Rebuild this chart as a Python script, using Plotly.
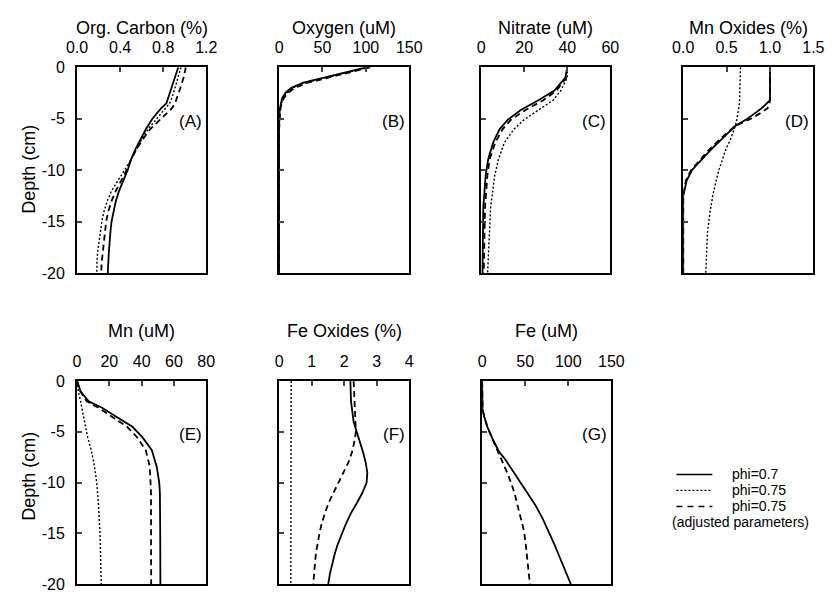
import plotly.graph_objects as go

# ---------------- data ----------------
# (A) Organic carbon (%)
a_depth = [0, -1, -2, -3, -3.5, -4, -4.5, -5, -6, -7, -8, -9, -10, -11, -12, -13, -14, -15, -16, -17, -18, -19, -20]
a_phi070 = [0.94, 0.91, 0.88, 0.85, 0.83, 0.78, 0.74, 0.70, 0.64, 0.59, 0.54, 0.50, 0.47, 0.43, 0.39, 0.36, 0.34, 0.32, 0.31, 0.30, 0.295, 0.29, 0.285]
a_phi075 = [0.965, 0.94, 0.91, 0.88, 0.86, 0.82, 0.78, 0.74, 0.66, 0.60, 0.55, 0.50, 0.44, 0.38, 0.32, 0.28, 0.25, 0.23, 0.215, 0.20, 0.19, 0.185, 0.183]
a_phi075adj = [1.01, 0.99, 0.96, 0.93, 0.91, 0.88, 0.83, 0.77, 0.68, 0.61, 0.55, 0.50, 0.46, 0.41, 0.36, 0.32, 0.29, 0.27, 0.26, 0.245, 0.235, 0.228, 0.224]

# (B) Oxygen (uM)
b_depth = [0, -0.5, -1, -1.5, -2, -2.5, -3, -3.5, -4, -5, -6, -20]
b_phi070 = [101, 76, 50, 28, 14, 7, 3.5, 1.8, 0.8, 0.2, 0, 0]
b_phi075 = [103, 78, 52, 30, 16, 8.5, 4.5, 2.4, 1.1, 0.3, 0, 0]
b_phi075adj = [105, 80, 55, 33, 18, 10, 5.5, 3, 1.5, 0.4, 0, 0]

# (C) Nitrate (uM)
c_depth = [0, -1, -2.26, -3.2, -4.15, -5.1, -6, -7.3, -8.9, -10.5, -13.6, -20]
c_phi070 = [40, 39.1, 34, 26.6, 18.4, 12.3, 8.6, 5.6, 3.3, 2.1, 1.0, 0.6]
c_phi075 = [40, 40, 37, 33.4, 26.6, 19.9, 15.3, 10.8, 8.1, 6.3, 4.4, 3.0]
c_phi075adj = [40, 39.5, 35, 28.9, 20.6, 13.8, 10, 6.6, 4, 2.9, 1.8, 1.2]

# (D) Mn oxides (%)
d_depth = [0, -3, -3.2, -3.7, -4, -4.5, -5, -5.7, -7, -8, -9, -10, -11, -12, -12.5, -13, -14, -16, -18, -20]
d_phi070 = [1.0, 1.0, 1.0, 0.94, 0.90, 0.82, 0.74, 0.60, 0.44, 0.32, 0.21, 0.10, 0.04, 0.008, 0, 0, 0, 0, 0, 0]
d_phi075 = [0.66, 0.655, 0.65, 0.645, 0.64, 0.63, 0.62, 0.60, 0.545, 0.49, 0.45, 0.41, 0.38, 0.35, 0.34, 0.33, 0.31, 0.28, 0.27, 0.26]
d_phi075adj = [1.0, 1.0, 1.0, 0.99, 0.97, 0.88, 0.78, 0.60, 0.42, 0.30, 0.19, 0.09, 0.03, 0.005, 0, 0, 0, 0, 0, 0]

# (E) Mn (uM)
e_depth = [0, -1, -2, -2.6, -3.6, -4.5, -5.5, -6.8, -8.4, -10, -11, -12, -15, -20]
e_phi070 = [0, 2.2, 7.2, 15.2, 25.3, 34.3, 40.3, 46.3, 49.3, 50.9, 51.3, 51.4, 51.5, 51.6]
e_phi075 = [0, 0.8, 2.2, 3.0, 4.2, 5.4, 6.5, 8.8, 10.8, 12.2, 12.8, 13.2, 14.2, 15.0]
e_phi075adj = [0, 2.0, 6.0, 13.0, 22.5, 31.0, 37.0, 42.5, 45.0, 45.7, 45.8, 45.8, 45.9, 45.9]

# (F) Fe oxides (%)
f_depth = [0, -2, -4, -5, -6, -7, -8, -9, -10, -11, -12, -13, -14, -15, -16, -17, -18, -19, -20]
f_phi070 = [2.19, 2.21, 2.29, 2.39, 2.49, 2.58, 2.66, 2.71, 2.69, 2.56, 2.39, 2.21, 2.06, 1.93, 1.81, 1.71, 1.63, 1.56, 1.51]
f_phi075 = [0.37, 0.37, 0.37, 0.37, 0.37, 0.37, 0.37, 0.37, 0.37, 0.37, 0.37, 0.37, 0.37, 0.37, 0.37, 0.37, 0.37, 0.36, 0.36]
f_phi075adj = [2.29, 2.31, 2.34, 2.36, 2.31, 2.24, 2.13, 1.98, 1.83, 1.67, 1.52, 1.41, 1.31, 1.24, 1.18, 1.13, 1.10, 1.07, 1.05]

# (G) Fe (uM)
g_depth = [0, -2, -2.8, -3.5, -4.5, -5.8, -7, -7.7, -9, -10, -11, -12.2, -13.5, -14.7, -16, -17.3, -18.5, -20]
g_phi070 = [0, 0, 0.5, 2.5, 6, 12.7, 20, 26.7, 37, 45, 53, 61.7, 70, 76.7, 83.5, 89.8, 96, 103]
g_phi075adj = [0, 0, 0.5, 2.5, 6, 12.5, 19, 22.5, 29, 33.5, 37.5, 41, 45, 48.5, 50.5, 52.3, 54, 55.5]

panel_titles = ["Org. Carbon (%)", "Oxygen (uM)", "Nitrate (uM)", "Mn Oxides (%)",
                "Mn (uM)", "Fe Oxides (%)", "Fe (uM)"]
panel_letters = ["(A)", "(B)", "(C)", "(D)", "(E)", "(F)", "(G)"]
x_ranges = [[0, 1.2], [0, 150], [0, 60], [0, 1.5], [0, 80], [0, 4], [0, 150]]
x_tickvals = [[0, 0.4, 0.8, 1.2], [0, 50, 100, 150], [0, 20, 40, 60], [0, 0.5, 1.0, 1.5],
              [0, 20, 40, 60, 80], [0, 1, 2, 3, 4], [0, 50, 100, 150]]
x_ticktext = [["0.0", "0.4", "0.8", "1.2"], ["0", "50", "100", "150"], ["0", "20", "40", "60"],
              ["0.0", "0.5", "1.0", "1.5"], ["0", "20", "40", "60", "80"],
              ["0", "1", "2", "3", "4"], ["0", "50", "100", "150"]]
y_tickvals = [0, -5, -10, -15, -20]
y_ticktext = ["0", "-5", "-10", "-15", "-20"]
series_names = ["phi=0.7", "phi=0.75", "phi=0.75"]
legend_note = "(adjusted parameters)"
y_title = "Depth (cm)"

panels = [
    (a_depth, [a_phi070, a_phi075, a_phi075adj]),
    (b_depth, [b_phi070, b_phi075, b_phi075adj]),
    (c_depth, [c_phi070, c_phi075, c_phi075adj]),
    (d_depth, [d_phi070, d_phi075, d_phi075adj]),
    (e_depth, [e_phi070, e_phi075, e_phi075adj]),
    (f_depth, [f_phi070, f_phi075, f_phi075adj]),
    (g_depth, [g_phi070, None, g_phi075adj]),
]

# ---------------- layout geometry (pixels in an 839x599 page) ----------------
W, H = 839, 599
col_px = [(68, 201), (276, 410), (484, 617), (692, 826), (68, 201), (276, 410), (485, 618)]
row_px = [(61, 273)] * 4 + [(384, 593)] * 3
title_y_px = [21] * 4 + [332] * 3

styles = [dict(color="black", width=1.8, dash="solid"),
          dict(color="black", width=1.4, dash="2px,2px"),
          dict(color="black", width=1.8, dash="6px,4px")]

FONT = "Liberation Sans, Arial, Helvetica, sans-serif"

fig = go.Figure()
layout = dict(
    width=W, height=H, margin=dict(l=0, r=0, t=0, b=0),
    paper_bgcolor="white", plot_bgcolor="white", showlegend=False,
    font=dict(family=FONT, size=16, color="black"),
)
annotations = []
shapes = []

for i, (depth, series) in enumerate(panels):
    k = i + 1
    xa = "x" if k == 1 else f"x{k}"
    ya = "y" if k == 1 else f"y{k}"
    for s, vals in enumerate(series):
        if vals is None:
            continue
        fig.add_trace(go.Scatter(x=vals, y=depth, mode="lines", line=styles[s],
                                 name=series_names[s], xaxis=xa, yaxis=ya,
                                 hoverinfo="skip"))
    x0, x1 = col_px[i]
    y0, y1 = row_px[i]
    layout["xaxis" if k == 1 else f"xaxis{k}"] = dict(
        domain=[x0 / W, x1 / W], range=x_ranges[i], side="top", anchor=ya,
        tickvals=x_tickvals[i], ticktext=x_ticktext[i], ticks="inside", ticklen=5,
        tickwidth=1.5, showline=True, linewidth=2, linecolor="black", mirror=True,
        showgrid=False, zeroline=False, tickfont=dict(size=16), fixedrange=True,
        ticklabelstandoff=6,
    )
    layout["yaxis" if k == 1 else f"yaxis{k}"] = dict(
        domain=[1 - y1 / H, 1 - y0 / H], range=[-20, 0], anchor=xa,
        tickvals=y_tickvals, ticktext=y_ticktext, ticks="inside", ticklen=5,
        tickwidth=1.5, showline=True, linewidth=2, linecolor="black", mirror=True,
        showgrid=False, zeroline=False, showticklabels=(i in (0, 4)),
        tickfont=dict(size=16), fixedrange=True, ticklabelstandoff=7,
    )
    annotations.append(dict(text=panel_titles[i], xref=f"{xa} domain", x=0.5,
                            yref="paper", y=1 - title_y_px[i] / H, showarrow=False,
                            xanchor="center", yanchor="middle", font=dict(size=18)))
    annotations.append(dict(text=panel_letters[i], xref=f"{xa} domain", x=0.985,
                            yref=ya, y=-5.3, showarrow=False, xanchor="right",
                            yanchor="middle", font=dict(size=17)))

# y-axis titles
for yc in (166, 482):
    annotations.append(dict(text=y_title, xref="paper", x=19 / W, yref="paper",
                            y=1 - yc / H, showarrow=False, textangle=-90,
                            xanchor="center", yanchor="middle", font=dict(size=18)))

# legend (drawn manually)
leg_rows = [480, 496.5, 513]
for s, yy in enumerate(leg_rows):
    st = styles[s]
    shapes.append(dict(type="line", xref="paper", yref="paper",
                       x0=685 / W, x1=722 / W, y0=1 - yy / H, y1=1 - yy / H,
                       line=dict(color="black", width=1.3 if s == 1 else 1.5,
                                 dash=st["dash"] if s != 2 else "6px,5px")))
    annotations.append(dict(text=series_names[s], xref="paper", x=741 / W,
                            yref="paper", y=1 - yy / H, showarrow=False,
                            xanchor="left", yanchor="middle", font=dict(size=14),
                            borderpad=0))
annotations.append(dict(text=legend_note, xref="paper", x=751 / W, yref="paper",
                        y=1 - 529.5 / H, showarrow=False, xanchor="center",
                        yanchor="middle", font=dict(size=14), borderpad=0))

layout["annotations"] = annotations
layout["shapes"] = shapes
fig.update_layout(**layout)
fig.write_html("out.html")
